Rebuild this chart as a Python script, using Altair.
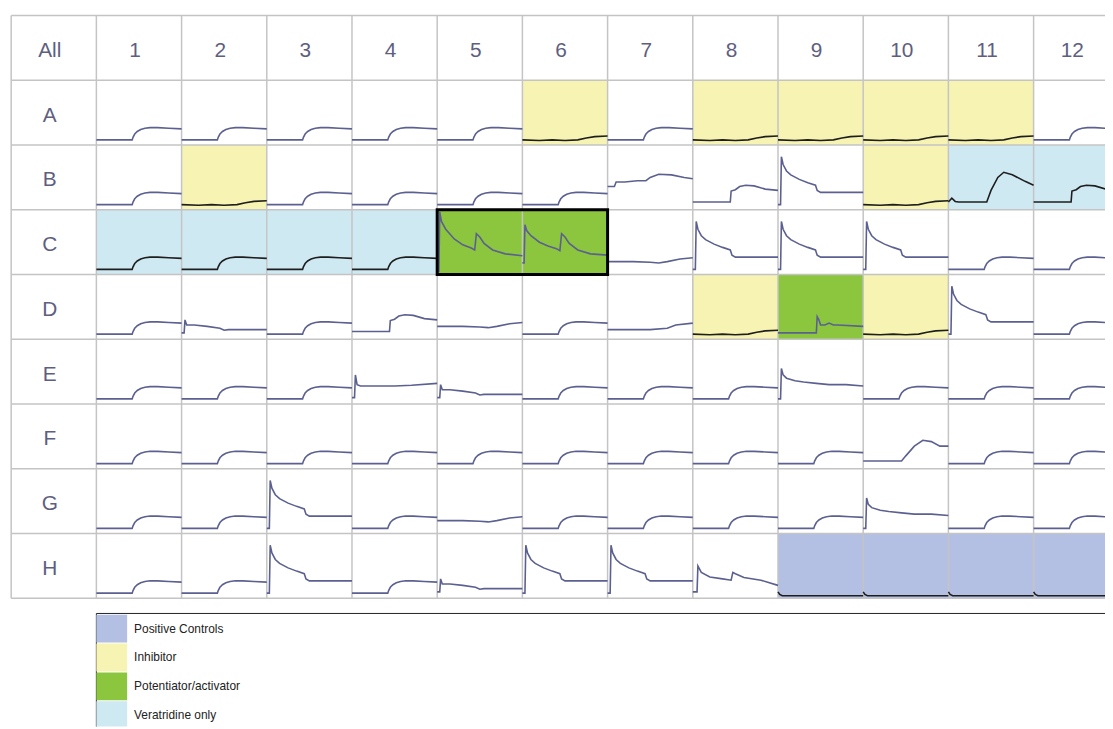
import altair as alt
import pandas as pd

# ---------------- data ----------------
col_labels = ["All"] + [str(i) for i in range(1, 13)]
row_labels = ["A", "B", "C", "D", "E", "F", "G", "H"]

legend_labels = ["Positive Controls", "Inhibitor", "Potentiator/activator", "Veratridine only"]
legend_colors = ["#b3c0e3", "#f7f3b2", "#8cc63e", "#cfe9f3"]

inhibitor_wells = ["A6", "A8", "A9", "A10", "A11", "B2", "B10", "D8", "D10"]
veratridine_wells = ["B11", "B12", "C1", "C2", "C3", "C4"]
potentiator_wells = ["C5", "C6", "D9"]
positive_wells = ["H9", "H10", "H11", "H12"]
highlight_wells = ["C5", "C6"]

# trace shapes: x = fraction of well width, y = fraction of well height
step_x = [0, .42, .43, .45, .48, .52, .57, .63, .72, .85, 1.0]
step_y = [.08, .08, .12, .17, .21, .24, .26, .27, .27, .26, .25]
stephi_x = [0, .44, .45, .50, .55, .62, .72, .85, 1.0]
stephi_y = [.12, .12, .29, .31, .36, .38, .37, .32, .30]
stepup_x = [0, .08, .10, .20, .35, .45, .50, .60, .75, .90, 1.0]
stepup_y = [.36, .36, .43, .43, .45, .45, .50, .55, .54, .50, .48]
flat_x = [0, .20, .35, .50, .65, .75, .85, 1.0]
flat_y = [.08, .07, .08, .07, .08, .11, .13, .14]
lav_x = [0, .02, .05, .50, 1.0]
lav_y = [.10, .06, .04, .04, .04]
spike_x = [0, .03, .04, .06, .10, .15, .25, .35, .44, .46, .50, .60, 1.0]
spike_y = [.08, .08, .82, .70, .60, .54, .47, .42, .38, .30, .27, .27, .27]
spikemed_x = [0, .03, .04, .06, .10, .20, .30, .45, .60, .80, 1.0]
spikemed_y = [.08, .08, .55, .45, .40, .36, .34, .32, .30, .30, .28]
spikesm_x = [0, .03, .04, .06, .15, .30, .45, .50, .55, 1.0]
spikesm_y = [.10, .10, .30, .22, .22, .20, .17, .14, .15, .15]
spikehi_x = [0, .03, .04, .06, .10, .30, .50, .70, 1.0]
spikehi_y = [.10, .10, .45, .30, .28, .28, .28, .29, .32]
dspike1_x = [0, .02, .03, .05, .10, .20, .30, .40, .44, .46, .50, .55, .65, .80, 1.0]
dspike1_y = [.05, .05, .97, .82, .70, .55, .46, .41, .38, .63, .58, .48, .38, .32, .29]
dspike2_x = [0, .02, .03, .05, .10, .20, .30, .40, .44, .46, .50, .55, .65, .80, 1.0]
dspike2_y = [.18, .18, .77, .68, .60, .50, .44, .40, .37, .63, .58, .48, .38, .32, .30]
dspikesm_x = [0, .05, .06, .10, .20, .35, .45, .47, .50, .60, .80, 1.0]
dspikesm_y = [.10, .10, .50, .40, .33, .30, .28, .40, .38, .32, .28, .20]
hump_x = [0, .04, .08, .12, .20, .45, .50, .58, .65, .75, .90, 1.0]
hump_y = [.12, .18, .13, .12, .12, .12, .30, .50, .58, .54, .44, .38]
humpsm_x = [0, .45, .50, .60, .70, .80, .90, 1.0]
humpsm_y = [.12, .12, .20, .35, .44, .42, .35, .35]
pot_x = [0, .45, .46, .48, .50, .55, .60, .65, .70, 1.0]
pot_y = [.10, .10, .35, .30, .22, .22, .25, .22, .22, .20]
low_x = [0, .30, .50, .60, .70, .85, 1.0]
low_y = [.20, .20, .19, .18, .20, .24, .26]
rise_x = [0, .30, .50, .70, .80, 1.0]
rise_y = [.15, .15, .15, .17, .22, .25]

SHAPES = {
    "step": (step_x, step_y), "stephi": (stephi_x, stephi_y), "stepup": (stepup_x, stepup_y),
    "flat": (flat_x, flat_y), "lav": (lav_x, lav_y), "spike": (spike_x, spike_y),
    "spikemed": (spikemed_x, spikemed_y), "spikesm": (spikesm_x, spikesm_y),
    "spikehi": (spikehi_x, spikehi_y), "dspike1": (dspike1_x, dspike1_y),
    "dspike2": (dspike2_x, dspike2_y), "dspikesm": (dspikesm_x, dspikesm_y),
    "hump": (hump_x, hump_y), "humpsm": (humpsm_x, humpsm_y), "pot": (pot_x, pot_y),
    "low": (low_x, low_y), "rise": (rise_x, rise_y),
}

plate_A = ["step", "step", "step", "step", "step", "flat", "step", "flat", "flat", "flat", "flat", "step"]
plate_B = ["step", "flat", "step", "step", "step", "step", "stepup", "stephi", "spike", "flat", "hump", "stephi"]
plate_C = ["step", "step", "step", "step", "dspike1", "dspike2", "low", "spike", "spike", "spike", "step", "step"]
plate_D = ["step", "spikesm", "step", "stephi", "low", "step", "rise", "flat", "pot", "flat", "spike", "step"]
plate_E = ["step", "step", "step", "spikehi", "spikesm", "step", "step", "step", "spikemed", "step", "step", "step"]
plate_F = ["step", "step", "step", "step", "step", "step", "step", "step", "step", "humpsm", "step", "step"]
plate_G = ["step", "step", "spike", "step", "low", "step", "step", "step", "step", "spikemed", "step", "step"]
plate_H = ["step", "step", "spike", "step", "spikesm", "spike", "spike", "dspikesm", "lav", "lav", "lav", "lav"]
PLATE = [plate_A, plate_B, plate_C, plate_D, plate_E, plate_F, plate_G, plate_H]

# ---------------- tables ----------------
TRACE_SLATE = "#5b6090"
TRACE_DARK = "#1e1e1e"

trace_rows = []
fill_rows = []
for r, row in enumerate(row_labels, start=1):
    for c in range(1, 13):
        well = f"{row}{c}"
        xs, ys = SHAPES[PLATE[r - 1][c - 1]]
        dark = well in inhibitor_wells or well in veratridine_wells or well in positive_wells
        for i, (fx, fy) in enumerate(zip(xs, ys)):
            trace_rows.append({"well": well, "i": i, "x": c + fx, "y": r + 1 - fy,
                               "color": TRACE_DARK if dark else TRACE_SLATE})
        color = None
        if well in positive_wells:
            color = legend_colors[0]
        elif well in inhibitor_wells:
            color = legend_colors[1]
        elif well in potentiator_wells:
            color = legend_colors[2]
        elif well in veratridine_wells:
            color = legend_colors[3]
        if color:
            fill_rows.append({"x": c, "x2": c + 1, "y": r, "y2": r + 1, "color": color})

traces = pd.DataFrame(trace_rows)
fills = pd.DataFrame(fill_rows)

n_cols = len(col_labels)
n_rows = len(row_labels) + 1
vlines = pd.DataFrame({"x": list(range(n_cols + 1)), "y": [0] * (n_cols + 1), "y2": [n_rows] * (n_cols + 1)})
hlines = pd.DataFrame({"y": list(range(n_rows + 1)), "x": [0] * (n_rows + 1), "x2": [n_cols] * (n_rows + 1)})

head = pd.DataFrame({"x": [i + 0.5 for i in range(n_cols)], "y": [0.5] * n_cols, "t": col_labels})
rlab = pd.DataFrame({"x": [0.5] * len(row_labels), "y": [r + 0.5 for r in range(1, n_rows)], "t": row_labels})
labels = pd.concat([head, rlab])

hl_cols = [int(w[1:]) for w in highlight_wells]
hl_row = row_labels.index(highlight_wells[0][0]) + 1
box = pd.DataFrame({"x": [min(hl_cols)], "x2": [max(hl_cols) + 1], "y": [hl_row], "y2": [hl_row + 1]})

LEG_TOP = 9.234
LEG_STEP = 0.445
legend_df = pd.DataFrame({
    "label": legend_labels,
    "color": legend_colors,
    "y": [LEG_TOP + 0.02 + i * LEG_STEP for i in range(len(legend_labels))],
    "y2": [LEG_TOP + 0.02 + i * LEG_STEP + 0.43 for i in range(len(legend_labels))],
    "ym": [LEG_TOP + 0.02 + i * LEG_STEP + 0.215 for i in range(len(legend_labels))],
})
legend_frame = pd.DataFrame({"x": [1.0], "x2": [14.0], "y": [LEG_TOP], "y2": [12.0]})

# ---------------- scales ----------------
X = alt.Scale(domain=[-0.0373, 12.838], nice=False, zero=False)
Y = alt.Scale(domain=[-0.0767, 10.978], nice=False, zero=False, reverse=True)

def xq(f="x"):
    return alt.X(f"{f}:Q", scale=X, axis=None)

def yq(f="y"):
    return alt.Y(f"{f}:Q", scale=Y, axis=None)

fill_layer = alt.Chart(fills).mark_rect(clip=True).encode(
    x=xq(), x2="x2:Q", y=yq(), y2="y2:Q", color=alt.Color("color:N", scale=None))

grid_v = alt.Chart(vlines).mark_rule(color="#c4c4c4", strokeWidth=1.5, clip=True).encode(
    x=xq(), y=yq(), y2="y2:Q")
grid_h = alt.Chart(hlines).mark_rule(color="#c4c4c4", strokeWidth=1.5, clip=True).encode(
    y=yq(), x=xq(), x2="x2:Q")

trace_layer = alt.Chart(traces).mark_line(strokeWidth=1.6, clip=True).encode(
    x=xq(), y=yq(), detail="well:N", order="i:Q", color=alt.Color("color:N", scale=None))

box_layer = alt.Chart(box).mark_rect(fill=None, stroke="black", strokeWidth=3, clip=True).encode(
    x=xq(), x2="x2:Q", y=yq(), y2="y2:Q")

label_layer = alt.Chart(labels).mark_text(
    font="Liberation Sans", fontSize=21, color="#5e5e80", dx=-4, dy=3, baseline="middle", align="center",
    clip=True).encode(x=xq(), y=yq(), text="t:N")

frame_layer = alt.Chart(legend_frame).mark_rect(fill=None, stroke="#222222", strokeWidth=1, clip=True).encode(
    x=xq(), x2="x2:Q", y=yq(), y2="y2:Q")

swatch_layer = alt.Chart(legend_df).mark_rect(clip=True).encode(
    x=alt.value(89), x2=alt.value(120), y=yq(), y2="y2:Q", color=alt.Color("color:N", scale=None))

legend_text = alt.Chart(legend_df).mark_text(
    font="Liberation Sans", fontSize=12, color="#222222", align="left", baseline="middle", clip=True).encode(
    x=alt.value(127), y=yq("ym"), text="label:N")

chart = alt.layer(
    fill_layer, grid_v, grid_h, trace_layer, box_layer, label_layer,
    frame_layer, swatch_layer, legend_text
).properties(
    width=1105, height=721, padding=0,
    autosize=alt.AutoSizeParams(type="none"),
).configure_view(stroke=None)

chart.save("out.html", embed_options={"renderer": "svg", "actions": False})
